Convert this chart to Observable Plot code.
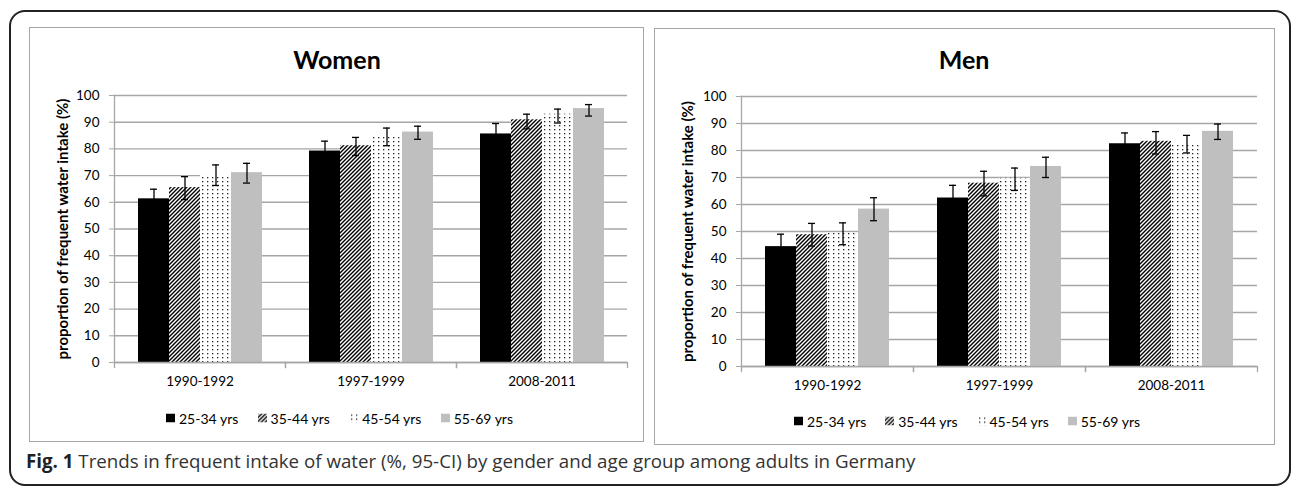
<!DOCTYPE html>
<html>
<head>
<meta charset="utf-8">
<script src="https://cdn.jsdelivr.net/npm/d3@7"></script>
<script src="https://cdn.jsdelivr.net/npm/@observablehq/plot@0.6"></script>
<style>
  html, body { margin: 0; padding: 0; background: #fff; }
  body { width: 1295px; height: 488px; position: relative; overflow: hidden; font-family: Lato, "Open Sans", sans-serif; }
  #outer { position: absolute; left: 9px; top: 10px; width: 1282px; height: 476px; border: 2px solid #222; border-radius: 16px; box-sizing: border-box; }
  .panel { position: absolute; border: 1.5px solid #a6a6a6; box-sizing: border-box; }
  .title { position: absolute; font-family: Lato, sans-serif; font-weight: bold; font-size: 25px; line-height: 25px; transform: translateX(-50%); white-space: nowrap; color: #000; }
  .chart { position: absolute; }
  .legend { position: absolute; display: flex; align-items: center; justify-content: space-between; font-family: Lato, sans-serif; font-size: 14px; color: #000; white-space: nowrap; transform: translateY(-50%); }
  .legend .item { display: flex; align-items: center; gap: 4px; }
  .legend svg { display: block; }
  #caption { position: absolute; left: 26px; top: 451px; font-family: "Open Sans", sans-serif; font-size: 17.5px; line-height: 20px; color: #333; white-space: nowrap; }
  #caption b { color: #222; }
</style>
</head>
<body>
<svg width="0" height="0" style="position:absolute">
  <defs>
    <pattern id="hatch" patternUnits="userSpaceOnUse" width="4" height="4">
      <rect width="4" height="4" fill="#fff"/>
      <path d="M-1,1 L1,-1 M0,4 L4,0 M3,5 L5,3" stroke="#000" stroke-width="1.4"/>
    </pattern>
    <pattern id="dots" patternUnits="userSpaceOnUse" width="5" height="4">
      <rect width="5" height="4" fill="#fff"/>
      <rect x="2" y="1" width="1.3" height="1.3" fill="#222"/>
    </pattern>
  </defs>
</svg>
<div id="outer"></div>
<div class="panel" style="left:29px;top:27px;width:615px;height:415px"></div>
<div class="panel" style="left:654px;top:28px;width:621px;height:417px"></div>
<div class="title" style="left:337px;top:47px">Women</div>
<div class="title" style="left:964px;top:47px">Men</div>
<div class="chart" id="women" style="left:30px;top:60px"></div>
<div class="chart" id="men" style="left:655px;top:60px"></div>
<div class="legend" id="legW" style="left:166px;top:418px;width:347px"></div>
<div class="legend" id="legM" style="left:794px;top:421px;width:346px"></div>
<div id="caption"><b>Fig. 1</b> Trends in frequent intake of water (%, 95-CI) by gender and age group among adults in Germany</div>
<script>
// ---- data ----
const periods = ["1990-1992", "1997-1999", "2008-2011"];
const ages = ["25-34 yrs", "35-44 yrs", "45-54 yrs", "55-69 yrs"];
const yTicks = [0, 10, 20, 30, 40, 50, 60, 70, 80, 90, 100];
const yTitle = "proportion of frequent water intake (%)";

// rows = age group, columns = period
const womenMean = [[61.3, 79.2, 85.6], [65.5, 81.2, 90.9], [70.1, 85.0, 93.0], [71.1, 86.3, 95.1]];
const womenLow  = [[57.7, 75.5, 81.7], [61.0, 77.5, 87.5], [66.3, 81.2, 89.7], [67.2, 83.6, 92.3]];
const womenHigh = [[64.9, 82.9, 89.5], [69.6, 84.3, 93.0], [74.0, 87.8, 94.9], [74.6, 88.5, 96.6]];

const menMean = [[44.4, 62.4, 82.5], [48.8, 67.9, 83.4], [49.4, 69.7, 82.6], [58.3, 74.1, 87.1]];
const menLow  = [[39.8, 57.7, 78.5], [44.6, 63.2, 78.7], [45.1, 65.2, 79.1], [54.0, 70.0, 84.1]];
const menHigh = [[49.0, 67.1, 86.5], [53.0, 72.3, 87.0], [53.2, 73.5, 85.6], [62.5, 77.5, 89.8]];

const fills = ["#000000", "url(#hatch)", "url(#dots)", "#bfbfbf"];

function buildRows(mean, low, high) {
  const rows = [];
  ages.forEach((age, i) => periods.forEach((period, j) => {
    rows.push({age, period, v: mean[i][j], lo: low[i][j], hi: high[i][j]});
  }));
  return rows;
}

function chart(rows, o) {
  const innerH = o.height - o.marginTop - o.marginBottom;
  const axisGray = "#a6a6a6";
  return Plot.plot({
    width: o.width, height: o.height,
    marginLeft: o.marginLeft, marginRight: o.marginRight,
    marginTop: o.marginTop, marginBottom: o.marginBottom,
    style: {fontFamily: "Lato, sans-serif", fontSize: "13.5px", color: "#000", background: "transparent", overflow: "visible"},
    x: {domain: ages, paddingInner: 0, paddingOuter: 0.75, axis: null},
    fx: {domain: periods, padding: 0, label: null},
    y: {domain: [0, 100], label: null},
    color: {domain: ages, range: fills},
    marks: [
      Plot.gridY(yTicks, {stroke: axisGray, strokeOpacity: 1, strokeWidth: 1.4}),
      Plot.barY(rows, {fx: "period", x: "age", y: "v", fill: "age"}),
      Plot.ruleX(rows, {fx: "period", x: "age", y1: "lo", y2: "hi", stroke: "#000", strokeWidth: 1.3}),
      Plot.tickY(rows, {fx: "period", x: "age", y: "lo", stroke: "#000", strokeWidth: 1.3, insetLeft: 12, insetRight: 12}),
      Plot.tickY(rows, {fx: "period", x: "age", y: "hi", stroke: "#000", strokeWidth: 1.3, insetLeft: 12, insetRight: 12}),
      Plot.ruleY([0], {stroke: axisGray, strokeWidth: 1.4}),
      Plot.frame({anchor: "left", insetTop: innerH, insetBottom: -5, stroke: axisGray, strokeWidth: 1.3}),
      Plot.frame({anchor: "right", insetTop: innerH, insetBottom: -5, stroke: axisGray, strokeWidth: 1.3}),
      Plot.frame({anchor: "left", fx: () => periods[0], stroke: axisGray, strokeWidth: 1.3}),
      Plot.axisY({ticks: yTicks, tickSize: 5, tickPadding: 10, stroke: axisGray, fill: "#000", label: null, fontSize: 13.5}),
      Plot.axisFx({anchor: "bottom", tickSize: 0, tickPadding: 14, label: null, fontSize: 13.5}),
      Plot.text([yTitle], {fx: () => periods[0], text: d => d, frameAnchor: "left", textAnchor: "middle", dx: o.titleDx, rotate: -90, fontWeight: "bold", fontSize: 15, fill: "#000"})
    ]
  });
}

document.getElementById("women").appendChild(chart(buildRows(womenMean, womenLow, womenHigh),
  {width: 612, height: 340, marginLeft: 84, marginRight: 15, marginTop: 35, marginBottom: 38, titleDx: -51}));
document.getElementById("men").appendChild(chart(buildRows(menMean, menLow, menHigh),
  {width: 618, height: 345, marginLeft: 85, marginRight: 15, marginTop: 36, marginBottom: 39, titleDx: -53}));

function legend(el) {
  ages.forEach((age, i) => {
    const item = document.createElement("div");
    item.className = "item";
    item.innerHTML = `<svg width="9" height="9"><rect width="9" height="9" fill="${fills[i]}"/></svg><span>${age}</span>`;
    el.appendChild(item);
  });
}
legend(document.getElementById("legW"));
legend(document.getElementById("legM"));

// fit caption to its measured span in the reference
const cap = document.getElementById("caption");
const targetW = 890;
const w = cap.getBoundingClientRect().width;
if (w > 0) cap.style.fontSize = (17.5 * targetW / w).toFixed(2) + "px";
</script>
</body>
</html>
